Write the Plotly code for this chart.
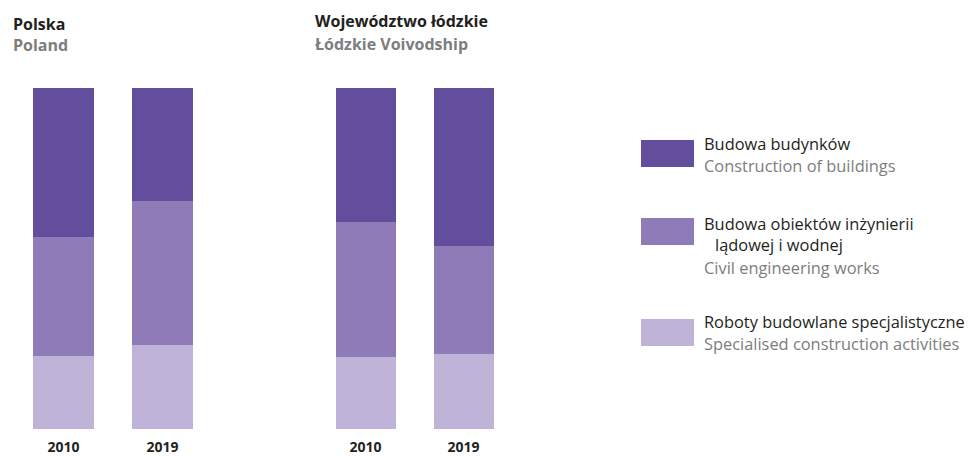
import plotly.graph_objects as go

years = ["2010", "2019"]
series_pl = ["Budowa budynków", "Budowa obiektów inżynierii lądowej i wodnej", "Roboty budowlane specjalistyczne"]
series_en = ["Construction of buildings", "Civil engineering works", "Specialised construction activities"]
# shares in %
poland_buildings = [43.7, 33.1]
poland_civil = [34.9, 42.2]
poland_special = [21.4, 24.7]
lodz_buildings = [39.3, 46.3]
lodz_civil = [39.6, 31.7]
lodz_special = [21.1, 22.0]

colors = ["#634d9d", "#8e7bb8", "#bfb4d8"]
FONT = "Open Sans"
W, H = 975, 456
OFF = 8  # page body margin offset


def fx(x):  # page px -> paper x
    return (x - OFF) / W


def fy(y):  # page px -> paper y
    return 1 - (y - OFF) / H


fig = go.Figure()
x_pos = [0, 1]
panels = [
    ("x", "y", [poland_special, poland_civil, poland_buildings]),
    ("x2", "y2", [lodz_special, lodz_civil, lodz_buildings]),
]
for xa, ya, vals in panels:
    for v, c in zip(vals, [colors[2], colors[1], colors[0]]):
        fig.add_trace(go.Bar(x=x_pos, y=v, marker=dict(color=c, line=dict(width=0)),
                             width=0.616, xaxis=xa, yaxis=ya, showlegend=False,
                             hoverinfo="skip"))

axis_common = dict(showgrid=False, zeroline=False, showline=False, ticks="",
                   range=[-0.5, 1.5], tickvals=x_pos,
                   ticktext=["<b>%s</b>" % y for y in years],
                   tickfont=dict(family=FONT, size=14, color="#231f20"),
                   ticklabelstandoff=8)
ydom = [fy(429), fy(88)]
yaxis_common = dict(range=[0, 100], visible=False, fixedrange=True, domain=ydom)

fig.update_layout(
    width=W, height=H, barmode="stack", bargap=0,
    paper_bgcolor="white", plot_bgcolor="rgba(0,0,0,0)",
    margin=dict(l=0, r=0, t=0, b=0),
    xaxis=dict(domain=[fx(14), fx(212)], anchor="y", **axis_common),
    xaxis2=dict(domain=[fx(316.5), fx(512.5)], anchor="y2", **axis_common),
    yaxis=dict(**yaxis_common),
    yaxis2=dict(anchor="x2", **yaxis_common),
)


def txt(x, y, text, color, size=15, bold=False):
    fig.add_annotation(x=fx(x), y=fy(y), xref="paper", yref="paper",
                       xanchor="left", yanchor="middle", showarrow=False,
                       text=("<b>%s</b>" % text) if bold else text,
                       font=dict(family=FONT, size=size, color=color))


BLACK = "#231f20"
GRAY = "#7d7d7d"
txt(11, 24, "Polska", BLACK, 16, True)
txt(11, 45, "Poland", GRAY, 16, True)
txt(313, 21, "Województwo łódzkie", BLACK, 16, True)
txt(313, 44, "Łódzkie Voivodship", GRAY, 16, True)

# legend
swatch_y = [(140, 167), (218, 245), (319, 346)]
for (y0, y1), c in zip(swatch_y, colors):
    fig.add_shape(type="rect", xref="paper", yref="paper",
                  x0=fx(641), x1=fx(694), y0=fy(y1), y1=fy(y0),
                  fillcolor=c, line=dict(width=0))

LS = 16.4
txt(702, 143, series_pl[0], BLACK, LS)
txt(702, 165, series_en[0], GRAY, LS)
txt(702, 223, "Budowa obiektów inżynierii", BLACK, LS)
txt(713, 244, "lądowej i wodnej", BLACK, LS)
txt(702, 267, series_en[1], GRAY, LS)
txt(702, 321, series_pl[2], BLACK, LS)
txt(702, 343, series_en[2], GRAY, LS)

fig.write_html("out.html")
